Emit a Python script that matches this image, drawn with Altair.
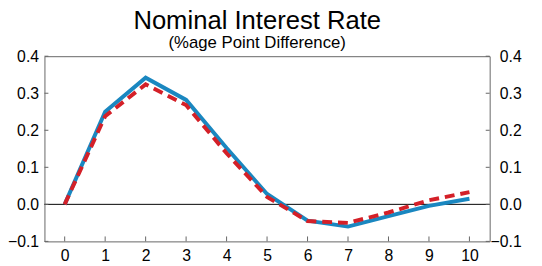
import altair as alt
import pandas as pd

horizon = [0, 1, 2, 3, 4, 5, 6, 7, 8, 9, 10]
solid_vals = [0.0, 0.25, 0.342, 0.282, 0.152, 0.028, -0.044, -0.06, -0.032, -0.004, 0.015]
dashed_vals = [0.0, 0.238, 0.324, 0.268, 0.138, 0.02, -0.045, -0.05, -0.022, 0.011, 0.033]
y_ticks = [-0.1, 0.0, 0.1, 0.2, 0.3, 0.4]
x_ticks = horizon

df = pd.DataFrame({"h": horizon, "solid": solid_vals, "dashed": dashed_vals})
yt = pd.DataFrame({"v": y_ticks})
xt = pd.DataFrame({"h": x_ticks})

W, H = 452, 188
xs = alt.Scale(domain=[-0.5, 10.5], nice=False, zero=False)
ys = alt.Scale(domain=[-0.1, 0.4], nice=False, zero=False)
font = "Liberation Sans"

x_axis = alt.Axis(values=x_ticks, title=None, ticks=False, domain=False, grid=False,
                  labelFont=font, labelFontSize=16, labelColor="black",
                  labelPadding=6, format="d")

base = alt.Chart(df)

zero = alt.Chart(pd.DataFrame({"z": [0.0]})).mark_rule(color="black", strokeWidth=1).encode(
    y=alt.Y("z:Q", scale=ys, axis=None)
)

left_ticks = alt.Chart(yt).mark_rule(color="#666666", strokeWidth=1).encode(
    y=alt.Y("v:Q", scale=ys,
            axis=alt.Axis(orient="left", values=y_ticks, format=".1f", title=None,
                          ticks=False, domain=False, grid=False, labelFont=font,
                          labelFontSize=16, labelColor="black", labelPadding=6)),
    x=alt.value(0), x2=alt.value(4)
)
right_ticks = alt.Chart(yt).mark_rule(color="#666666", strokeWidth=1).encode(
    y=alt.Y("v:Q", scale=ys,
            axis=alt.Axis(orient="right", values=y_ticks, format=".1f", title=None,
                          ticks=False, domain=False, grid=False, labelFont=font,
                          labelFontSize=16, labelColor="black", labelAlign="right",
                          labelPadding=32)),
    x=alt.value(W - 4), x2=alt.value(W)
)
bottom_ticks = alt.Chart(xt).mark_rule(color="#666666", strokeWidth=1).encode(
    x=alt.X("h:Q", scale=xs, axis=x_axis),
    y=alt.value(H - 5), y2=alt.value(H)
)

solid = base.mark_line(color="#1a87c0", strokeWidth=4).encode(
    x=alt.X("h:Q", scale=xs, axis=x_axis), y=alt.Y("solid:Q", scale=ys, axis=None)
)
dashed = base.mark_line(color="#d42028", strokeWidth=4, strokeDash=[10, 6]).encode(
    x=alt.X("h:Q", scale=xs, axis=x_axis), y=alt.Y("dashed:Q", scale=ys, axis=None)
)

chart = alt.layer(zero, left_ticks, bottom_ticks, solid, dashed, right_ticks).resolve_scale(
    y="shared"
).resolve_axis(y="independent").properties(
    width=W, height=H,
    autosize=alt.AutoSizeParams(type="none"),
    padding={"left": 37, "top": 47, "right": 45, "bottom": 20},
    title=alt.TitleParams(
        "Nominal Interest Rate",
        subtitle="(%age Point Difference)",
        font=font, fontSize=26, fontWeight="normal", color="black",
        subtitleFont=font, subtitleFontSize=17, subtitleColor="black",
        anchor="middle", offset=-3, subtitlePadding=2, dx=-10,
    ),
).configure_view(stroke="#666666", strokeWidth=1)

chart.save("out.html", embed_options={"renderer": "svg", "actions": False})
